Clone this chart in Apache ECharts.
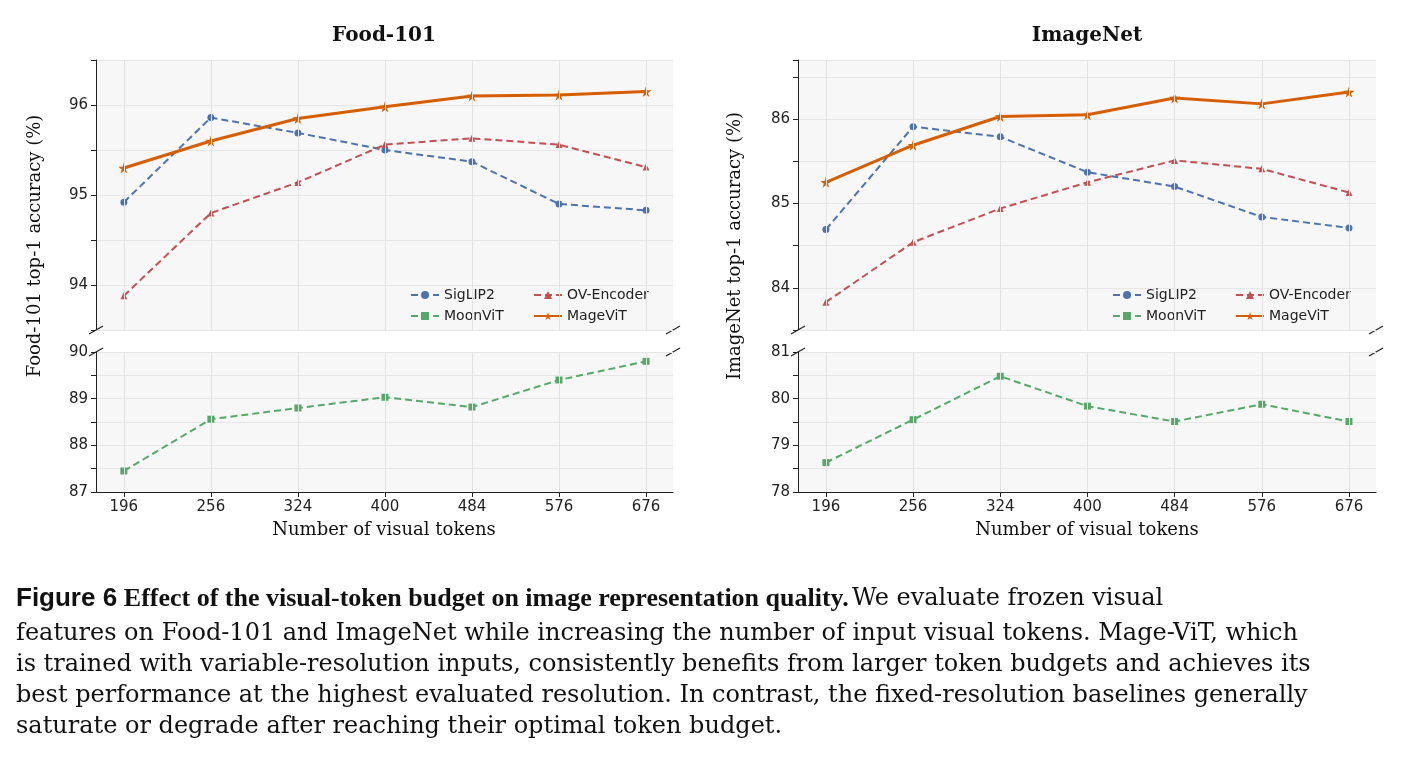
<!DOCTYPE html><html><head><meta charset="utf-8"><script src="https://cdn.jsdelivr.net/npm/echarts@6/dist/echarts.min.js"></script>
<style>body{margin:0;background:#fff}#c{width:1410px;height:773px}</style></head><body><div id="c"></div><script>
const tokens=['196','256','324','400','484','576','676'];
const foodSig=[94.92,95.86,95.69,95.5,95.37,94.9,94.83];
const foodOV=[93.88,94.8,95.14,95.56,95.63,95.56,95.31];
const foodMage=[95.3,95.6,95.85,95.98,96.1,96.11,96.15];
const foodMoon=[87.45,88.56,88.8,89.03,88.82,89.4,89.8];
const inSig=[84.69,85.91,85.79,85.37,85.2,84.84,84.71];
const inOV=[83.83,84.54,84.94,85.25,85.51,85.41,85.13];
const inMage=[85.25,85.69,86.03,86.05,86.25,86.18,86.32];
const inMoon=[78.63,79.55,80.48,79.84,79.51,79.88,79.51];
const C={sig:'#4c72b0',ov:'#c44e52',moon:'#55a868',mage:'#d55e00'};
const star='path://M50,0 L61,35 L98,35 L68,57 L79,91 L50,70 L21,91 L32,57 L2,35 L39,35 Z';
const F='DejaVu Sans';
const idx=[0,1,2,3,4,5,6];
const pts=a=>a.map((v,i)=>[i,v]);
const grids=[{left:96,width:577,top:60,height:270},{left:96,width:577,top:352,height:140},{left:798,width:578,top:60,height:270},{left:798,width:578,top:352,height:140}];
grids.forEach(g=>{g.show=true;g.backgroundColor='#f7f7f7';g.borderWidth=0;});
const xA=(gi,lab)=>({type:'value',gridIndex:gi,min:-0.32,max:6.31,
 axisLine:{show:lab,onZero:false,lineStyle:{color:'#222'}},
 axisTick:{show:lab,length:5,customValues:idx,lineStyle:{color:'#222'}},
 axisLabel:{show:lab,customValues:idx,color:'#222',fontFamily:F,fontSize:15,formatter:v=>tokens[Math.round(v)]||''},
 splitLine:{show:false}});
const yA=(gi,min,max)=>({type:'value',gridIndex:gi,min,max,interval:0.5,
 axisLine:{show:true,onZero:false,lineStyle:{color:'#222'}},axisTick:{show:true,length:5,lineStyle:{color:'#222'}},
 axisLabel:{color:'#222',fontFamily:F,fontSize:15,formatter:v=>Number.isInteger(v)?String(v):''},
 splitLine:{show:true,lineStyle:{color:'#e6e6e6'}}});
const vl=(gi)=>({name:'v'+gi,type:'line',xAxisIndex:gi,yAxisIndex:gi,data:[],silent:true,
 markLine:{symbol:'none',silent:true,label:{show:false},lineStyle:{color:'#e2e2e2',type:'solid',width:1},data:idx.map(i=>({xAxis:i}))},z:1});
const ser=(name,data,gi,col,sym,dash,w,ss)=>({name,type:'line',xAxisIndex:gi,yAxisIndex:gi,data:pts(data),
 symbol:sym,symbolSize:ss,itemStyle:{color:col},lineStyle:{color:col,width:w,type:dash?[7,4]:'solid'},z:dash?2:3});
const series=[vl(0),vl(1),vl(2),vl(3),
 ser('SigLIP2',foodSig,0,C.sig,'circle',1,2,7),ser('OV-Encoder',foodOV,0,C.ov,'triangle',1,2,7),
 ser('MageViT',foodMage,0,C.mage,star,0,3,11),ser('MoonViT',foodMoon,1,C.moon,'rect',1,2,7),
 ser('SigLIP2',inSig,2,C.sig,'circle',1,2,7),ser('OV-Encoder',inOV,2,C.ov,'triangle',1,2,7),
 ser('MageViT',inMage,2,C.mage,star,0,3,11),ser('MoonViT',inMoon,3,C.moon,'rect',1,2,7)];
const leg=(name,l,t)=>({data:[name],left:l,top:t,itemWidth:28,itemHeight:10,itemGap:4,textStyle:{fontFamily:F,fontSize:14,color:'#222'}});
const legends=[leg('SigLIP2',405,283),leg('MoonViT',405,304),leg('OV-Encoder',528,283),leg('MageViT',528,304),
 leg('SigLIP2',1107,283),leg('MoonViT',1107,304),leg('OV-Encoder',1230,283),leg('MageViT',1230,304)];
const brk=(x,y)=>({type:'line',shape:{x1:x-7,y1:y+4,x2:x+7,y2:y-4},style:{stroke:'#222',lineWidth:1.2}});
const CF='DejaVu Serif';
const cap=[
 'features on Food-101 and ImageNet while increasing the number of input visual tokens. Mage-ViT, which',
 'is trained with variable-resolution inputs, consistently benefits from larger token budgets and achieves its',
 'best performance at the highest evaluated resolution. In contrast, the fixed-resolution baselines generally',
 'saturate or degrade after reaching their optimal token budget.'];
const graphic=[
 brk(96,330),brk(96,352),brk(673,330),brk(673,352),brk(798,330),brk(798,352),brk(1376,330),brk(1376,352),
 {type:'text',x:384,y:26,style:{text:'Food-101',fontFamily:CF,fontWeight:'bold',fontSize:20,fill:'#111',align:'center'}},
 {type:'text',x:1087,y:26,style:{text:'ImageNet',fontFamily:CF,fontWeight:'bold',fontSize:20,fill:'#111',align:'center'}},
 {type:'text',x:384,y:521,style:{text:'Number of visual tokens',fontFamily:CF,fontSize:18,fill:'#111',align:'center'}},
 {type:'text',x:1087,y:521,style:{text:'Number of visual tokens',fontFamily:CF,fontSize:18,fill:'#111',align:'center'}},
 {type:'text',x:26,y:246,rotation:Math.PI/2,style:{text:'Food-101 top-1 accuracy (%)',fontFamily:CF,fontSize:18,fill:'#111',align:'center',verticalAlign:'top'}},
 {type:'text',x:726,y:246,rotation:Math.PI/2,style:{text:'ImageNet top-1 accuracy (%)',fontFamily:CF,fontSize:18,fill:'#111',align:'center',verticalAlign:'top'}},
 {type:'text',x:16,y:586,style:{text:'{f|Figure 6}  {b|Effect of the visual-token budget on image representation quality.} {r|We evaluate frozen visual}',
  rich:{f:{fontFamily:'Liberation Sans',fontWeight:'bold',fontSize:26,fill:'#111'},b:{fontFamily:'Liberation Serif',fontWeight:'bold',fontSize:26,fill:'#111'},r:{fontFamily:CF,fontSize:24,fill:'#111'}}}}
].concat(cap.map((s,i)=>({type:'text',x:16,y:622+i*31,style:{text:s,fontFamily:CF,fontSize:24,fill:'#111'}})));
const ch=echarts.init(document.getElementById('c'));
ch.setOption({animation:false,grid:grids,
 xAxis:[xA(0,false),xA(1,true),xA(2,false),xA(3,true)],
 yAxis:[yA(0,93.5,96.5),yA(1,87,90),yA(2,83.5,86.7),yA(3,78,81)],
 legend:legends,series,graphic});
</script></body></html>
